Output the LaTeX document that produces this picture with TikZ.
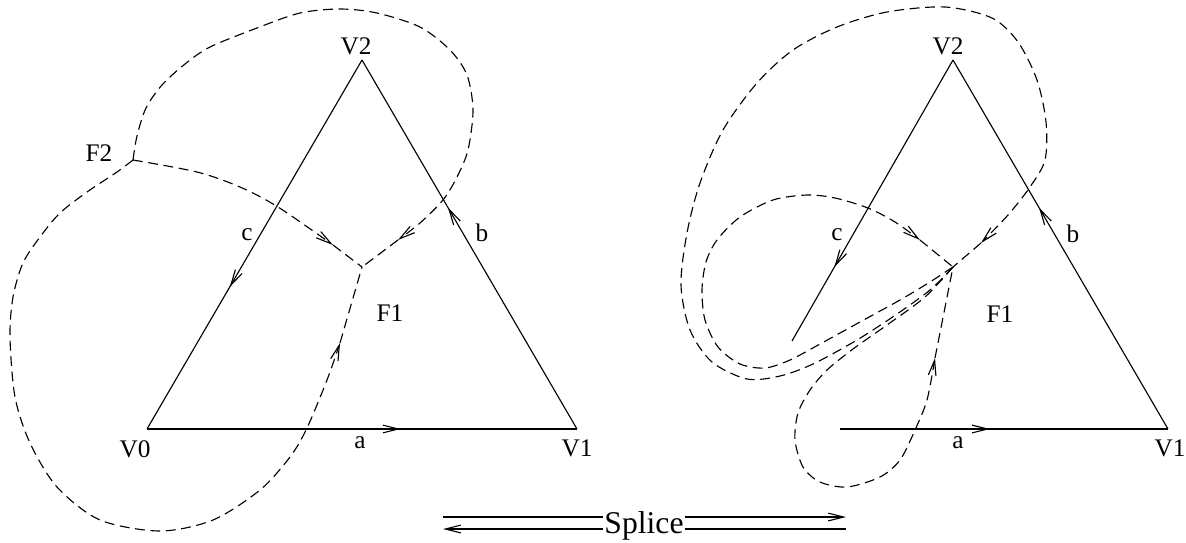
\documentclass[tikz,border=0pt]{standalone}
\usepackage{fontspec}
\setmainfont{Liberation Serif}
\usetikzlibrary{arrows.meta,decorations.markings}

\begin{document}
\begin{tikzpicture}[
  x=0.025cm, y=-0.025cm,
  every node/.style={font=\fontsize{18}{21}\selectfont, inner sep=0pt},
  edge/.style={line width=0.8pt},
  dual/.style={line width=0.8pt, dash pattern=on 7pt off 4pt},
  >={Straight Barb[length=11pt,width=5.5pt]},
  mid/.style={postaction=decorate, decoration={markings,
              mark=at position #1 with {\arrow{>}}}}
]
\useasboundingbox (0,0) rectangle (1186,542);

%% --- Left: triangle and its dual ---------------------------
\coordinate (V0) at (147,429);
\coordinate (V1) at (577,429);
\coordinate (V2) at (362,60);
\coordinate (F1) at (362,267);
\coordinate (F2) at (133,160);

\draw[edge, mid=0.59]  (V0) -- (V1);
\draw[edge, mid=0.60]  (V1) -- (V2);
\draw[edge, mid=0.615] (V2) -- (V0);

\node (lV0) at (135,449) {V0};
\node (lV1) at (577,448) {V1};
\node (lV2) at (356,46)  {V2};
\node (la)  at (360,443) {a};
\node (lb)  at (482,233) {b};
\node (lc)  at (247,235) {c};
\node (lF1) at (390,313) {F1};
\node (lF2) at (99,153)  {F2};

\coordinate (tA) at (333,245);
\coordinate (tB) at (398,240);
\coordinate (tC) at (340,343);

\draw[dual,->] plot[smooth] coordinates {(F2) (197,172) (240,187) (278,207) (tA)};
\draw[dual] (tA) -- (F1);
\draw[dual,->] plot[smooth] coordinates {(F2) (137,136) (146,108) (162,85)
   (185,64) (210,47) (257,28) (300,13) (340,9) (377,13) (420,27) (450,50)
   (467,75) (473,110) (468,150) (457,177) (443,200) (420,223) (tB)};
\draw[dual] (tB) -- (F1);
\draw[dual,->] plot[smooth] coordinates {(F2) (117,172) (87,192) (60,213)
   (40,237) (23,263) (13,297) (10,337) (15,397) (30,443) (57,487) (100,520)
   (160,531) (213,520) (260,490) (290,457) (307,428) (327,380) (tC)};
\draw[dual] (tC) -- (F1);

%% --- Right: after the splice -------------------------------
\coordinate (W2) at (953,60);
\coordinate (W1) at (1168,429);
\coordinate (Wc) at (792,341);
\coordinate (Wa) at (840,429);
\coordinate (G1) at (953,267);

\draw[edge, mid=0.457] (Wa) -- (W1);
\draw[edge, mid=0.60]  (W1) -- (W2);
\draw[edge, mid=0.737] (W2) -- (Wc);

\node (rV1) at (1170,448) {V1};
\node (rV2) at (948,46)   {V2};
\node (ra)  at (958,443)  {a};
\node (rb)  at (1073,234) {b};
\node (rc)  at (837,235)  {c};
\node (rF1) at (1000,314) {F1};

\coordinate (tD) at (981,243);
\coordinate (tE) at (920,240);
\coordinate (tF) at (935,358);

% outer loop
\draw[dual,->] plot[smooth] coordinates {(G1) (930,290) (897,314) (857,340)
   (813,364) (780,376) (747,379) (712,362) (690,330) (681,285) (687,233)
   (700,183) (723,130) (757,83) (793,50) (837,27) (887,12) (945,7) (992,18)
   (1018,42) (1037,80) (1046,122) (1045,160) (1030,187) (1008,215) (tD)};
\draw[dual] (tD) -- (G1);
% inner loop
\draw[dual,->] plot[smooth] coordinates {(G1) (930,282) (900,300) (860,322)
   (820,344) (790,360) (765,368) (740,364) (718,347) (705,320) (702,290)
   (706,262) (717,240) (740,217) (773,200) (807,195) (835,198) (868,208)
   (895,222) (tE)};
\draw[dual] (tE) -- (G1);
% bottom loop
\draw[dual,->] plot[smooth] coordinates {(G1) (925,297) (887,325) (853,349)
   (827,370) (810,390) (798,413) (795,440) (803,467) (820,482) (847,487)
   (880,477) (900,460) (915,430) (927,400) (tF)};
\draw[dual] (tF) -- (G1);

%% --- Splice arrows -----------------------------------------
\coordinate (sL1) at (443,517);
\coordinate (sR1) at (846,517);
\coordinate (sL2) at (443,529);
\coordinate (sR2) at (846,529);
\draw[edge,->] (sL1) -- (sR1);
\draw[edge,->] (sR2) -- (sL2);
\node[font=\fontsize{22.5}{26}\selectfont, fill=white, inner xsep=1pt,
      anchor=base] (splice) at (644,533) {Splice};

\end{tikzpicture}
\end{document}
